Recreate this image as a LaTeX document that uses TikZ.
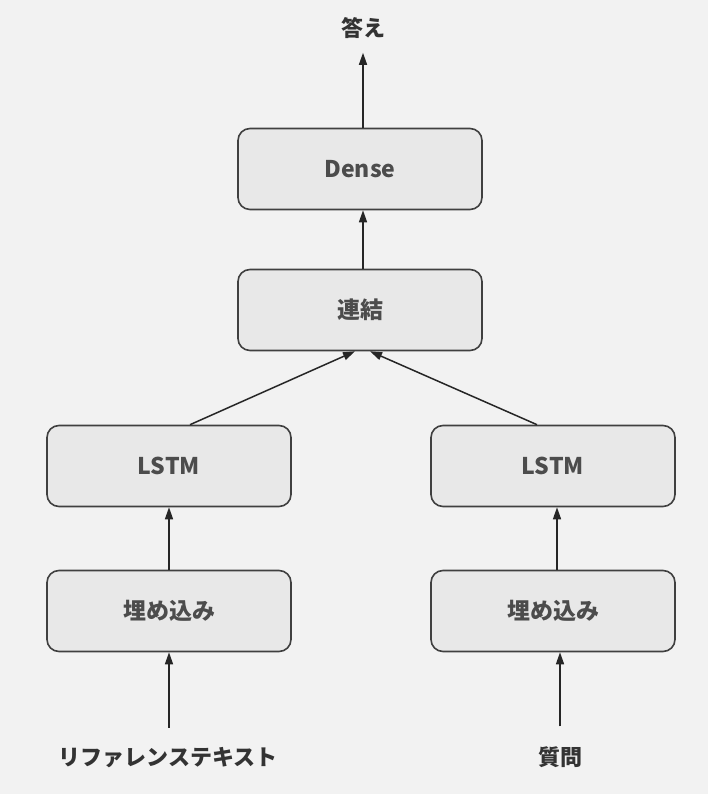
\documentclass[tikz,border=0pt]{standalone}
\usepackage{fontspec}
\setmainfont{Noto Sans CJK JP}
\usetikzlibrary{arrows.meta}
\begin{document}
\begin{tikzpicture}[x=1pt,y=1pt,
  layer/.style={draw=black!75, line width=1.6pt, fill=black!9, rounded corners=12pt, minimum width=244pt, minimum height=81pt, inner sep=0pt, font=\fontsize{23}{26}\selectfont\bfseries, text=black!70},
  lbl/.style={font=\fontsize{22}{26}\selectfont\bfseries, text=black!80, inner sep=0pt},
  conn/.style={draw=black!85, line width=1.5pt, -{Triangle[length=12pt,width=8pt]}}]
\fill[black!5] (0,0) rectangle (708,794);
\useasboundingbox (0,0) rectangle (708,794);
\node[layer] (dense) at (360,625) {Dense};
\node[layer] (concat) at (360,484) {連結};
\node[layer] (lstmL) at (169,328) {LSTM};
\node[layer] (lstmR) at (553,328) {LSTM};
\node[layer] (embL) at (169,183) {埋め込み};
\node[layer] (embR) at (553,183) {埋め込み};
\node[lbl] (ans) at (363,766) {答え};
\node[lbl] (ref) at (168,36) {リファレンステキスト};
\node[lbl] (q) at (560,37) {質問};
\draw[conn] (dense.north -| ans) -- ([yshift=-14pt]ans.south);
\draw[conn] (concat.north -| 363,0) -- (dense.south -| 363,0);
\draw[conn] ([xshift=21pt]lstmL.north) -- ([xshift=-5pt]concat.south);
\draw[conn] ([xshift=-16pt]lstmR.north) -- ([xshift=10pt]concat.south);
\draw[conn] (embL.north) -- (lstmL.south);
\draw[conn] ([xshift=4pt]embR.north) -- ([xshift=4pt]lstmR.south);
\draw[conn] ([yshift=20pt]ref.north -| embL) -- (embL.south);
\draw[conn] ([yshift=20pt]q.north) -- (q |- embR.south);
\end{tikzpicture}
\end{document}
